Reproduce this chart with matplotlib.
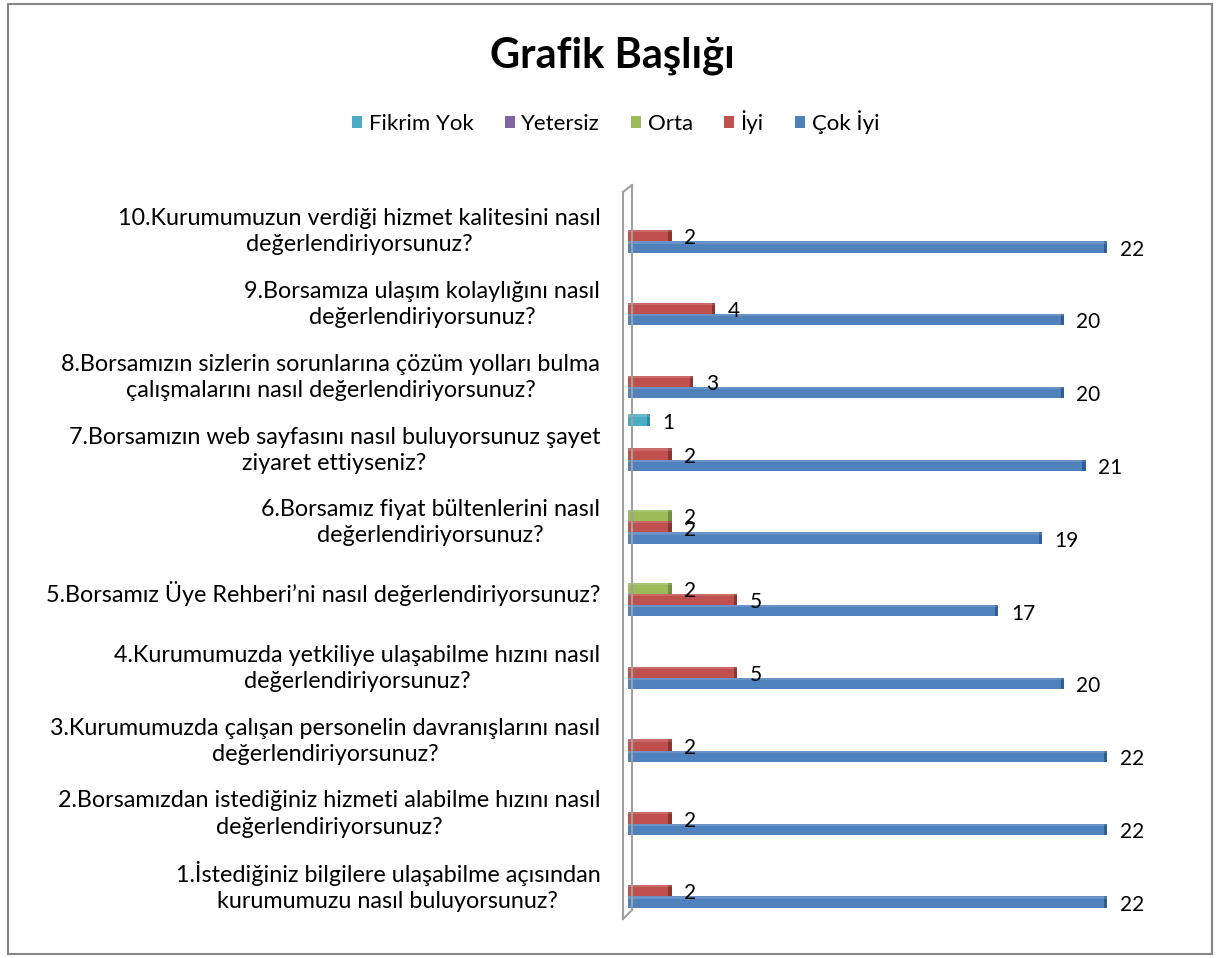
import numpy as np
import matplotlib
matplotlib.use("Agg")
import matplotlib.pyplot as plt
from matplotlib.patches import Rectangle, Patch
from matplotlib.lines import Line2D

plt.rcParams['font.family'] = ['Lato', 'DejaVu Sans']

# categories from bottom (1) to top (10)
questions = [
    "1.İstediğiniz bilgilere ulaşabilme açısından\nkurumumuzu nasıl buluyorsunuz?",
    "2.Borsamızdan istediğiniz hizmeti alabilme hızını nasıl\ndeğerlendiriyorsunuz?",
    "3.Kurumumuzda çalışan personelin davranışlarını nasıl\ndeğerlendiriyorsunuz?",
    "4.Kurumumuzda yetkiliye ulaşabilme hızını nasıl\ndeğerlendiriyorsunuz?",
    "5.Borsamız Üye Rehberi’ni nasıl değerlendiriyorsunuz?",
    "6.Borsamız fiyat bültenlerini nasıl\ndeğerlendiriyorsunuz?",
    "7.Borsamızın web sayfasını nasıl buluyorsunuz şayet\nziyaret ettiyseniz?",
    "8.Borsamızın sizlerin sorunlarına çözüm yolları bulma\nçalışmalarını nasıl değerlendiriyorsunuz?",
    "9.Borsamıza ulaşım kolaylığını nasıl\ndeğerlendiriyorsunuz?",
    "10.Kurumumuzun verdiği hizmet kalitesini nasıl\ndeğerlendiriyorsunuz?",
]

series_names = ["Fikrim Yok", "Yetersiz", "Orta", "İyi", "Çok İyi"]
fikrim_yok = [None, None, None, None, None, None, 1, None, None, None]
yetersiz = [None] * 10
orta = [None, None, None, None, 2, 2, None, None, None, None]
iyi = [2, 2, 2, 5, 5, 2, 2, 3, 4, 2]
cok_iyi = [22, 22, 22, 20, 17, 19, 21, 20, 20, 22]

colors = ["#4BACC6", "#8064A2", "#9BBB59", "#C0504D", "#4F81BD"]
dark = ["#2E8AA3", "#5E4680", "#748F3A", "#8F3330", "#2F5E93"]

fig = plt.figure(figsize=(12.19, 9.58), dpi=100)
ax = fig.add_axes([0.5152, 0.0441, 0.429, 0.7597])

slot = 0.155
y = np.arange(len(questions))
all_series = [fikrim_yok, yetersiz, orta, iyi, cok_iyi]
for i, vals in enumerate(all_series):
    off = (2 - i) * slot
    for k, v in enumerate(vals):
        if v is None:
            continue
        yy = y[k] + off
        ax.barh(yy, v, height=slot, color=colors[i], edgecolor='none', zorder=3 + i)
        # darker end face of the 3d bar
        ax.barh(yy, 0.15, left=v - 0.15, height=slot, color=dark[i],
                edgecolor='none', zorder=3 + i)
        # light top face
        ax.barh(yy + slot * 0.4, v, height=slot * 0.2, color='white',
                alpha=0.15, edgecolor='none', zorder=3 + i)
        ax.annotate(str(v), (v, yy), xytext=(9, -2), textcoords='offset points',
                    ha='left', va='center', fontsize=15, color='black', zorder=10)

ax.set_xlim(0, 24)
ax.set_ylim(-0.5, len(questions) - 0.5)
ax.set_yticks(y - 0.04)
ax.set_yticklabels(questions, fontsize=16.8, multialignment='center')
ax.tick_params(axis='y', length=0, pad=20)
ax.tick_params(axis='x', bottom=False, labelbottom=False)
for s in ax.spines.values():
    s.set_visible(False)
for lbl in ax.get_yticklabels():
    lbl.set_linespacing(1.3)

# 3d side wall
wall = dict(color='#A0A0A0', lw=1.5, transform=fig.transFigure, clip_on=False)
W, H = 1219.0, 958.0
xl, xr = 623 / W, 632 / W
fig.add_artist(Line2D([xl, xl], [1 - 192 / H, 1 - 919 / H], **wall))
fig.add_artist(Line2D([xr, xr], [1 - 185 / H, 1 - 910 / H], **wall))
fig.add_artist(Line2D([xl, xr], [1 - 192 / H, 1 - 185 / H], **wall))
fig.add_artist(Line2D([xl, xr], [1 - 919 / H, 1 - 910 / H], **wall))

fig.text(0.502, 0.942, "Grafik Başlığı", ha='center', va='center',
         fontsize=30, fontweight='bold')

handles = [Patch(facecolor=c, edgecolor='none') for c in colors]
fig.legend(handles, series_names, loc='center', bbox_to_anchor=(0.505, 0.873),
           ncol=5, frameon=False, fontsize=16, handlelength=0.45, handleheight=0.45,
           handletextpad=0.3, columnspacing=1.4)

fig.add_artist(Rectangle((8 / W, 4 / H), 1204 / W, 950 / H, transform=fig.transFigure,
                         fill=False, edgecolor='#868686', lw=1.5))

fig.savefig("out.png", dpi=100)
